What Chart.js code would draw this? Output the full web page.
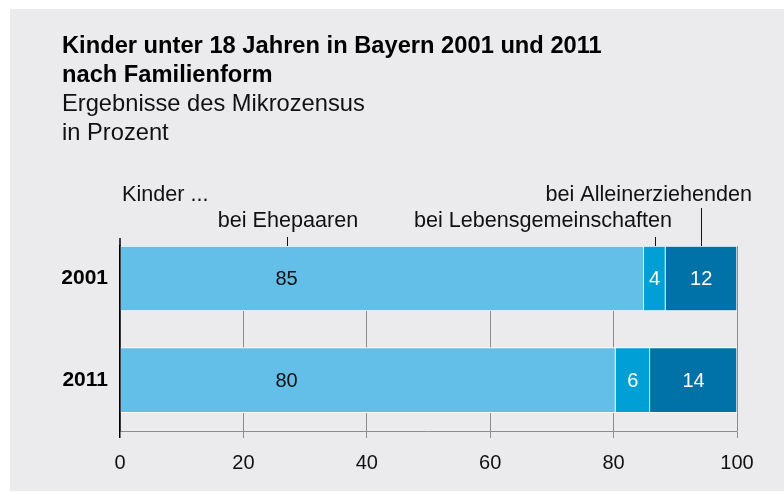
<!DOCTYPE html>
<html>
<head>
<meta charset="utf-8">
<script src="https://cdn.jsdelivr.net/npm/chart.js@4.4.1/dist/chart.umd.min.js"></script>
<style>
  html, body { margin: 0; padding: 0; background: #fff; }
  #wrap { position: absolute; left: 0; top: 0; width: 784px; height: 492px; }
</style>
</head>
<body>
<div id="wrap"><canvas id="myChart" width="784" height="492"></canvas></div>
<script>
// Werte aus der Grafik (Anteile in Prozent)
const jahre = ['2001', '2011'];
const ehepaare = [84.9, 80.3];
const lebensgemeinschaften = [3.5, 5.6];
const alleinerziehende = [11.6, 14.1];
const xTicks = [0, 20, 40, 60, 80, 100];
const reihenNamen = ['bei Ehepaaren', 'bei Lebensgemeinschaften', 'bei Alleinerziehenden'];

const schrift = '"Liberation Sans", Arial, Helvetica, sans-serif';
const farben = ['#63bee8', '#00a0d6', '#0072a7'];
const posEheLabel = 27; // x-Wert, an dem die Zahl im ersten Segment steht

function punkte(werte) {
  return werte.map((v, i) => ({ x: v, y: i }));
}

// Hintergrundfläche
const hintergrund = {
  id: 'hintergrund',
  beforeDraw(chart) {
    const ctx = chart.ctx;
    ctx.save();
    ctx.fillStyle = '#ffffff';
    ctx.fillRect(0, 0, chart.width, chart.height);
    ctx.fillStyle = '#ebebed';
    ctx.fillRect(10, 9, chart.width - 10, chart.height - 10);
    ctx.restore();
  }
};

// Zahlen in den Balken
const werte = {
  id: 'werte',
  afterDatasetsDraw(chart) {
    const ctx = chart.ctx;
    const x = chart.scales.x;
    ctx.save();
    ctx.font = '20px ' + schrift;
    ctx.textAlign = 'center';
    ctx.textBaseline = 'middle';
    chart.data.datasets.forEach((ds, di) => {
      chart.getDatasetMeta(di).data.forEach((bar, i) => {
        const px = di === 0 ? x.getPixelForValue(posEheLabel) : (bar.x + bar.base) / 2;
        ctx.fillStyle = di === 0 ? '#111' : '#fff';
        ctx.fillText(String(Math.round(ds.data[i].x)), px, bar.y + 1);
      });
    });
    ctx.restore();
  }
};

// Beschriftung oben mit Hinweislinien
const beschriftung = {
  id: 'beschriftung',
  afterDraw(chart) {
    const ctx = chart.ctx;
    const x = chart.scales.x;
    const top = chart.chartArea.top;
    const m = [0, 1, 2].map(d => chart.getDatasetMeta(d).data[0]);
    const xEhe = Math.round(x.getPixelForValue(posEheLabel)) + 0.5;
    const xLeb = Math.round((m[1].x + m[1].base) / 2) + 0.5;
    const xAll = Math.round((m[2].x + m[2].base) / 2) + 0.5;
    const x0 = x.getPixelForValue(0);

    ctx.save();
    ctx.fillStyle = '#111';
    ctx.font = '21.6px ' + schrift;
    ctx.textBaseline = 'alphabetic';
    ctx.textAlign = 'left';
    ctx.fillText('Kinder ...', 122, 201);
    ctx.textAlign = 'right';
    ctx.fillText(reihenNamen[2], 752, 201);
    ctx.textAlign = 'center';
    ctx.fillText(reihenNamen[0], 288, 227);
    ctx.fillText(reihenNamen[1], 543, 227);

    ctx.strokeStyle = '#111';
    ctx.lineWidth = 1;
    ctx.beginPath();
    ctx.moveTo(xEhe, top - 9); ctx.lineTo(xEhe, top);
    ctx.moveTo(xLeb, top - 9); ctx.lineTo(xLeb, top);
    ctx.moveTo(xAll, top - 38); ctx.lineTo(xAll, top);
    ctx.stroke();

    ctx.lineWidth = 1.5;
    ctx.strokeStyle = '#000';
    ctx.beginPath();
    ctx.moveTo(x0, top - 8); ctx.lineTo(x0, top);
    ctx.stroke();
    ctx.restore();
  }
};

const data = {
  datasets: [
    { label: reihenNamen[0], data: punkte(ehepaare), backgroundColor: farben[0] },
    { label: reihenNamen[1], data: punkte(lebensgemeinschaften), backgroundColor: farben[1] },
    { label: reihenNamen[2], data: punkte(alleinerziehende), backgroundColor: farben[2] }
  ].map(ds => Object.assign(ds, {
    borderColor: '#ffffff',
    borderWidth: 1,
    barThickness: 65
  }))
};

const config = {
  type: 'bar',
  data: data,
  options: {
    indexAxis: 'y',
    responsive: false,
    animation: false,
    devicePixelRatio: 1,
    layout: { padding: { top: 32, left: 62, right: 47, bottom: 4 } },
    plugins: {
      legend: { display: false },
      tooltip: { enabled: false },
      title: {
        display: true,
        text: ['Kinder unter 18 Jahren in Bayern 2001 und 2011', 'nach Familienform'],
        align: 'start',
        color: '#000',
        font: { family: schrift, size: 23.7, weight: 'bold', lineHeight: '29px' },
        padding: { top: 0, bottom: 0 }
      },
      subtitle: {
        display: true,
        text: ['Ergebnisse des Mikrozensus', 'in Prozent'],
        align: 'start',
        color: '#111',
        font: { family: schrift, size: 23.7, weight: 'normal', lineHeight: '29px' },
        padding: { top: 0, bottom: 98 }
      }
    },
    scales: {
      x: {
        type: 'linear',
        stacked: true,
        min: 0,
        max: 100,
        afterBuildTicks: s => { s.ticks = xTicks.map(v => ({ value: v })); },
        ticks: { color: '#111', font: { family: schrift, size: 20 }, padding: 13, maxRotation: 0 },
        grid: {
          color: c => (c.tick && c.tick.value === 0 ? '#000' : '#8c8c8c'),
          lineWidth: c => (c.tick && c.tick.value === 0 ? 1.5 : 1),
          tickLength: 7,
          drawTicks: true
        },
        border: { display: true, color: '#8c8c8c', width: 1 }
      },
      y: {
        type: 'linear',
        stacked: true,
        reverse: true,
        offset: false,
        min: -0.32,
        max: 1.5,
        afterBuildTicks: s => { s.ticks = jahre.map((j, i) => ({ value: i })); },
        afterFit: s => { s.width = 58; },
        ticks: {
          color: '#000',
          font: { family: schrift, size: 21, weight: 'bold' },
          padding: 12,
          callback: v => jahre[v]
        },
        grid: { display: false, drawTicks: false },
        border: { display: true, color: '#000', width: 1.5 }
      }
    }
  },
  plugins: [hintergrund, werte, beschriftung]
};

const ctx = document.getElementById('myChart').getContext('2d');
const myChart = new Chart(ctx, config);
</script>
</body>
</html>
